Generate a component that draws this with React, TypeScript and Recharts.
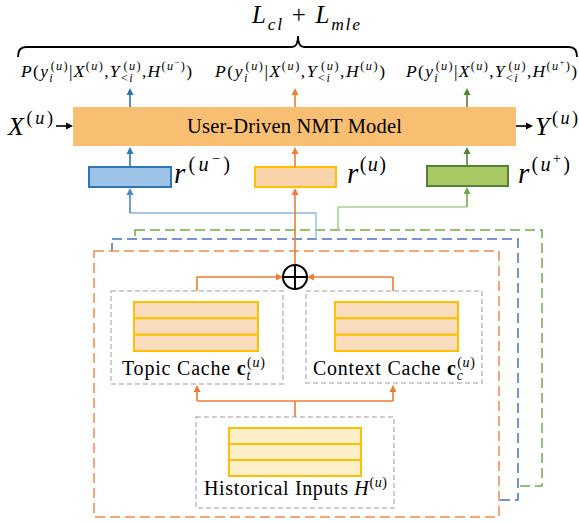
import React from 'react';
import { ComposedChart, XAxis, YAxis, ReferenceArea, ReferenceLine, ReferenceDot } from 'recharts';

const W = 579;
const H = 522;

// text content of the diagram
const objectiveTerms = ['cl', 'mle'];
const branchMarks = ['−', '', '+']; // H^(u-), H^(u), H^(u+)
const modelTitle = 'User-Driven NMT Model';
const cacheNames = ['Topic Cache ', 'Context Cache '];
const cacheSubs = ['t', 'c'];
const historyName = 'Historical Inputs ';
const stackRows = [0, 1, 2];

// layout
const branchX = [130, 295, 467];
const probLeft = [21, 215, 406];
const probWidth = [171, 170, 171];
const reprBox = [
  [89, 171, 167, 187],
  [255, 336, 167, 187],
  [427, 508, 166, 186],
];
const reprLabelX = [174, 347, 518];
const reprLabelW = [56, 39, 52];
const branchStroke = ['#2E75B6', '#ED7D31', '#548235'];
const reprFill = ['#9DC3E6', '#FAD3AA', '#A9C965'];
const reprStroke = ['#2E75B6', '#FFC000', '#548235'];

const FONT = '"Liberation Serif", "Times New Roman", serif';

type Part = { t: string; l?: number; it?: boolean; b?: boolean; dx?: number };
const LV: Record<number, [number, number]> = {
  0: [0, 1],
  1: [-0.42, 0.7],
  [-1]: [0.26, 0.7],
  2: [-0.7, 0.5],
};

const I = (t: string, l = 0, dx?: number): Part => ({ t, l, it: true, dx });
const R = (t: string, l = 0, dx?: number): Part => ({ t, l, dx });
const supU = (mark = '', dx?: number): Part[] =>
  mark ? [R('(', 1, dx), I('u', 1), R(mark, 2), R(')', 1)] : [R('(', 1, dx), I('u', 1), R(')', 1)];

const mathText = (x: number, y: number, parts: Part[], size: number, width?: number) => {
  let cur = 0;
  return (
    <text
      x={x}
      y={y}
      fontSize={size}
      fontFamily={FONT}
      fill="#000"
      textLength={width}
      lengthAdjust={width ? 'spacing' : undefined}
      style={{ whiteSpace: 'pre' }}
    >
      {parts.map((p, i) => {
        const [off, sc] = LV[p.l ?? 0];
        const target = off * size;
        const dy = target - cur;
        cur = target;
        return (
          <tspan
            key={i}
            dx={p.dx}
            dy={dy}
            fontSize={sc * size}
            fontStyle={p.it ? 'italic' : 'normal'}
            fontWeight={p.b ? 'bold' : 'normal'}
          >
            {p.t}
          </tspan>
        );
      })}
    </text>
  );
};

const probParts = (mark: string): Part[] => [
  I('P'), R('('), I('y'), I('i', -1), ...supU('', -3.4),
  R('|'), I('X'), ...supU(), R(','),
  I('Y'), R('<', -1), I('i', -1), ...supU('', -10.3), R(','),
  I('H'), ...supU(mark), R(')'),
];

// text placed through a reference dot so it follows the chart scales
const label = (key: string, x: number, y: number, parts: Part[], size: number, width?: number) => (
  <ReferenceDot
    key={key}
    x={x}
    y={y}
    r={0}
    isFront
    shape={(p: any) => mathText(p.cx, p.cy, parts, size, width)}
  />
);

const lineShape = (color: string, width: number, head: boolean) => (p: any) => {
  const { x1, y1, x2, y2 } = p;
  const a = Math.atan2(y2 - y1, x2 - x1);
  const c = Math.cos(a);
  const s = Math.sin(a);
  const len = 7;
  const hw = 3.5;
  const bx = x2 - len * c;
  const by = y2 - len * s;
  return (
    <g>
      <line x1={x1} y1={y1} x2={head ? bx + c : x2} y2={head ? by + s : y2} stroke={color} strokeWidth={width} />
      {head && (
        <polygon
          points={`${x2},${y2} ${bx - hw * s},${by + hw * c} ${bx + hw * s},${by - hw * c}`}
          fill={color}
        />
      )}
    </g>
  );
};

const seg = (key: string, x1: number, y1: number, x2: number, y2: number, color: string, head = false, width = 1.6) => (
  <ReferenceLine
    key={key}
    segment={[{ x: x1, y: y1 }, { x: x2, y: y2 }]}
    shape={lineShape(color, width, head)}
  />
);

const box = (
  key: string, x1: number, x2: number, y1: number, y2: number,
  fill: string, stroke: string, strokeWidth = 1.5, dash?: string,
) => (
  <ReferenceArea
    key={key}
    x1={x1}
    x2={x2}
    y1={y1}
    y2={y2}
    fill={fill}
    fillOpacity={fill === 'none' ? 0 : 1}
    stroke={stroke}
    strokeWidth={strokeWidth}
    strokeDasharray={dash}
  />
);

const braceShape = (p: any) => {
  const { x1, y1, x2 } = p;
  const m = (x1 + x2) / 2 + 0.5;
  const d = `M${x1},${y1 + 10} Q${x1},${y1} ${x1 + 8},${y1} L${m - 6},${y1} Q${m},${y1} ${m},${y1 - 11} Q${m},${y1} ${m + 6},${y1} L${x2 - 8},${y1} Q${x2},${y1} ${x2},${y1 + 10}`;
  return <path d={d} fill="none" stroke="#000" strokeWidth={1.8} />;
};

const plusShape = (p: any) => {
  const { cx, cy } = p;
  const r = 12;
  return (
    <g>
      <circle cx={cx} cy={cy} r={r} fill="#fff" stroke="#000" strokeWidth={2} />
      <line x1={cx - r} y1={cy} x2={cx + r} y2={cy} stroke="#000" strokeWidth={2} />
      <line x1={cx} y1={cy - r} x2={cx} y2={cy + r} stroke="#000" strokeWidth={2} />
    </g>
  );
};

const stack = (key: string, x1: number, x2: number, y1: number, y2: number, fill: string) => {
  const h = (y2 - y1) / stackRows.length;
  return stackRows.map((r) => box(`${key}-${r}`, x1, x2, y1 + r * h, y1 + (r + 1) * h, fill, '#FFC000', 2));
};

export default function App() {
  return (
    <div style={{ position: 'absolute', left: 0, top: 0, width: W, height: H, background: '#fff' }}>
      <ComposedChart width={W} height={H} data={[{ x: 0, y: 0 }]} margin={{ top: 0, right: 0, bottom: 0, left: 0 }}>
        <XAxis type="number" dataKey="x" domain={[0, W]} allowDataOverflow hide />
        <YAxis type="number" dataKey="y" domain={[0, H]} allowDataOverflow reversed hide />

        {/* stacked user frames */}
        {box('frame-g', 135, 542, 230, 486, '#fff', '#70AD47', 1.5, '10 5')}
        {box('frame-b', 112, 518, 239, 500, '#fff', '#4472C4', 1.5, '10 5')}
        {box('frame-o', 94, 499, 251, 517, '#fff', '#F08A4B', 1.5, '10 5')}

        {/* caches and history */}
        {box('topic', 111, 283, 291, 384, '#fff', '#BFBFBF', 1.5, '5 3')}
        {box('context', 306, 482, 291, 383, '#fff', '#BFBFBF', 1.5, '5 3')}
        {box('history', 196, 394, 417, 508, '#fff', '#BFBFBF', 1.5, '5 3')}
        {stack('topic-s', 134, 258, 302, 351, '#F9DDBE')}
        {stack('context-s', 335, 458, 302, 351, '#F9DDBE')}
        {stack('history-s', 229, 361, 428, 476, '#FDEFC9')}

        {/* model and user representations */}
        {box('model', 73, 516, 107, 146, '#F8BF72', 'none', 0)}
        {reprBox.map((b, i) => box(`repr-${i}`, b[0], b[1], b[2], b[3], reprFill[i], reprStroke[i], 2))}

        {/* arrows */}
        {branchX.map((x, i) => seg(`top-${i}`, x, 107, x, 88, branchStroke[i], true))}
        {branchX.map((x, i) => seg(`mid-${i}`, x, reprBox[i][2], x, 147, branchStroke[i], true))}
        {seg('b1', 316, 239, 316, 213, '#9DC3E6')}
        {seg('b2', 316, 213, 130, 213, '#8DB4E2')}
        {seg('b3', 130, 213, 130, 188, '#4A86C8', true)}
        {seg('g1', 338, 230, 338, 207, '#A9D18E')}
        {seg('g2', 338, 207, 467, 207, '#A9D18E')}
        {seg('g3', 467, 207, 467, 187, '#70AD47', true)}
        {seg('o1', 295, 265, 295, 188, '#ED7D31', true)}
        {seg('t1', 197, 291, 197, 277, '#ED7D31')}
        {seg('t2', 197, 277, 283, 277, '#ED7D31', true)}
        {seg('c1', 393, 291, 393, 277, '#ED7D31')}
        {seg('c2', 393, 277, 307, 277, '#ED7D31', true)}
        {seg('h1', 295, 417, 295, 401, '#ED7D31')}
        {seg('h2', 197, 401, 393, 401, '#ED7D31')}
        {seg('h3', 197, 401, 197, 385, '#ED7D31', true)}
        {seg('h4', 393, 401, 393, 385, '#ED7D31', true)}
        {seg('xin', 56, 126, 73, 126, '#000', true)}
        {seg('yout', 516, 126, 533, 126, '#000', true)}
        <ReferenceLine segment={[{ x: 18, y: 47 }, { x: 577, y: 47 }]} shape={braceShape} />
        <ReferenceDot x={295} y={277} r={12} isFront shape={plusShape} />

        {/* texts */}
        {label('obj', 252, 23, [I('L'), I(objectiveTerms[0], -1), R(' + '), I('L'), I(objectiveTerms[1], -1)], 25, 108)}
        {branchMarks.map((m, i) => label(`prob-${i}`, probLeft[i], 77, probParts(m), 17.5, probWidth[i]))}
        {label('x', 8, 135, [I('X'), ...supU()], 26, 45)}
        {label('y', 535, 135, [I('Y'), ...supU()], 26, 43)}
        {label('model', 187, 133, [R(modelTitle)], 20.5, 215)}
        {branchMarks.map((m, i) =>
          label(`r-${i}`, reprLabelX[i], 183, [I('r'), ...supU(m)], 29, reprLabelW[i]),
        )}
        {label('topic-l', 122, 375, [R(cacheNames[0]), { t: 'c', b: true }, I(cacheSubs[0], -1), ...supU('', -4)], 20, 143)}
        {label('context-l', 313, 375, [R(cacheNames[1]), { t: 'c', b: true }, I(cacheSubs[1], -1), ...supU('', -6.5)], 20, 162)}
        {label('history-l', 204, 495, [R(historyName), I('H'), ...supU()], 20, 183)}
      </ComposedChart>
    </div>
  );
}
